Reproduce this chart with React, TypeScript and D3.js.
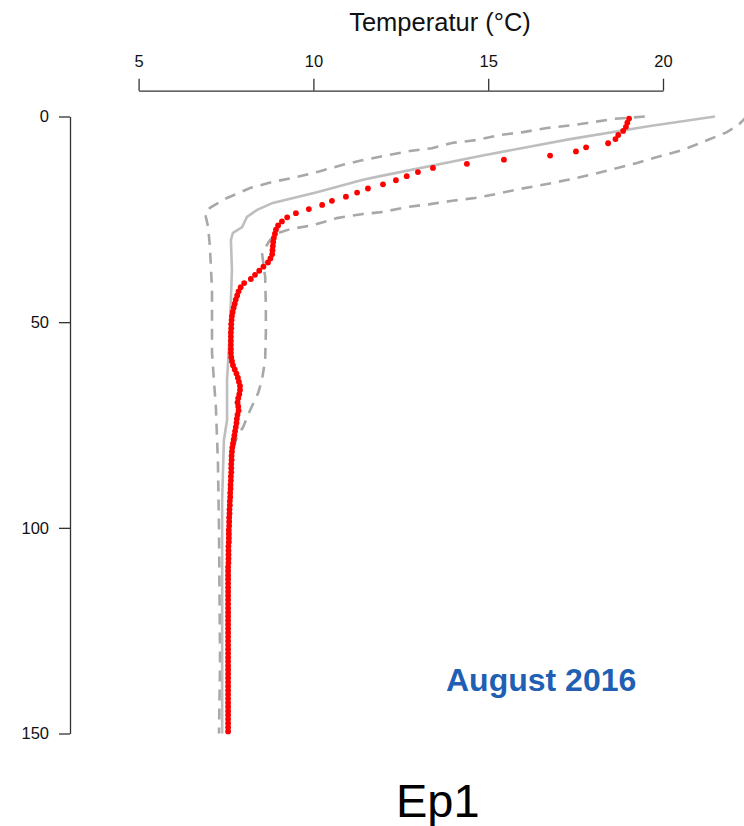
import React, { useEffect, useRef } from 'react';
import * as d3 from 'd3';

// Red dots: measured profile, one value per 1 m bin (depth = index + 0.5)
const observedTemp = [
  19.03, 18.98, 18.94, 18.86, 18.72, 18.64, 18.43, 17.8, 17.51, 16.77,
  15.45, 14.39, 13.42, 12.99, 12.67, 12.36, 11.99, 11.56, 11.25, 10.93,
  10.53, 10.25, 9.87, 9.5, 9.25, 9.1, 8.99, 8.93, 8.9, 8.87,
  8.85, 8.84, 8.83, 8.82, 8.77, 8.7, 8.57, 8.45, 8.33, 8.21,
  8.02, 7.92, 7.86, 7.82, 7.78, 7.75, 7.72, 7.69, 7.67, 7.66,
  7.65, 7.65, 7.64, 7.64, 7.64, 7.64, 7.64, 7.64, 7.65, 7.67,
  7.7, 7.75, 7.8, 7.84, 7.87, 7.9, 7.9, 7.88, 7.85, 7.83,
  7.85, 7.86, 7.83, 7.81, 7.8, 7.78, 7.76, 7.74, 7.72, 7.7,
  7.68, 7.67, 7.66, 7.66, 7.65, 7.65, 7.65, 7.64, 7.64, 7.63,
  7.63, 7.62, 7.62, 7.61, 7.61, 7.6, 7.6, 7.59, 7.59, 7.59,
  7.58, 7.58, 7.58, 7.58, 7.57, 7.57, 7.57, 7.57, 7.57, 7.56,
  7.56, 7.56, 7.56, 7.56, 7.56, 7.56, 7.56, 7.56, 7.56, 7.56,
  7.56, 7.56, 7.56, 7.56, 7.56, 7.56, 7.56, 7.56, 7.56, 7.56,
  7.56, 7.56, 7.56, 7.56, 7.56, 7.56, 7.56, 7.56, 7.56, 7.56,
  7.56, 7.56, 7.56, 7.56, 7.56, 7.56, 7.56, 7.56, 7.56, 7.56,
];

// Gray solid: mean profile
const meanDepth = [0, 2.3, 5.5, 9.6, 14.5, 15.4, 18.4, 21, 22.7, 24.4, 26.9, 28.3, 30, 37.3, 44.6, 51.9, 64, 73.8, 78.7, 93.3, 117.6, 150];
const meanTemp = [21.49, 19.63, 17.34, 14.77, 11.91, 11.42, 10.1, 8.84, 8.39, 8.1, 7.96, 7.7, 7.64, 7.67, 7.64, 7.61, 7.53, 7.53, 7.44, 7.39, 7.39, 7.39];

// Gray dashed: maximum profile
const maxDepth = [0, 2.1, 3.8, 6.2, 8.1, 9.8, 11.3, 12.8, 14.2, 15.4, 16.6, 17.6, 18.8, 19.8, 20.5, 21.3, 22, 23.2, 23.7, 24.7, 26.4, 27.4, 28.3, 30, 33.2, 39, 46.3, 52.6, 59.2, 64, 67.2, 71.4, 75.5, 77.9, 81.1, 84.2, 92.5, 117.6, 150];
const maxTemp = [22.4, 22.15, 21.83, 21.14, 20.57, 19.86, 19.26, 18.57, 17.91, 17.28, 16.57, 15.91, 15.25, 14.62, 13.97, 13.34, 12.68, 11.99, 11.42, 10.67, 9.99, 9.33, 8.99, 8.76, 8.53, 8.62, 8.64, 8.64, 8.62, 8.53, 8.42, 8.19, 7.99, 7.81, 7.7, 7.67, 7.64, 7.59, 7.59];

// Gray dashed: minimum profile
const minDepth = [0, 0.6, 1.6, 2.1, 2.8, 3.8, 4.5, 5.7, 6.4, 7.7, 8.4, 9.4, 10.6, 11.8, 13.3, 14.7, 15.9, 17.4, 19.8, 22.2, 23.5, 26.9, 31.7, 42.2, 57.5, 64.8, 70.6, 77.4, 84.2, 100.5, 132.9, 150];
const minTemp = [19.48, 18.57, 17.83, 17.43, 16.68, 16.0, 15.34, 14.68, 13.99, 13.39, 12.76, 12.13, 11.42, 10.82, 10.19, 9.53, 8.84, 8.19, 7.53, 7.04, 6.9, 6.99, 7.04, 7.1, 7.1, 7.16, 7.21, 7.24, 7.27, 7.3, 7.33, 7.3];

const tempTicks = [5, 10, 15, 20];
const depthTicks = [0, 50, 100, 150];

const W = 744;
const H = 826;
const font = '"Liberation Sans", Arial, sans-serif';

export default function App() {
  const ref = useRef<SVGSVGElement>(null);

  useEffect(() => {
    const svg = d3.select(ref.current);
    svg.selectAll('*').remove();

    const x = d3.scaleLinear().domain([5, 20]).range([138.6, 663]);
    const y = d3.scaleLinear().domain([0, 150]).range([116.5, 733.5]);

    // top axis
    svg.append('g')
      .attr('transform', 'translate(0,90.7)')
      .call(d3.axisTop(x).tickValues(tempTicks).tickSize(12).tickSizeOuter(0).tickPadding(12))
      .call(g => {
        g.select('.domain').attr('stroke', '#333').attr('stroke-width', 1.3);
        g.selectAll('line').attr('stroke', '#333').attr('stroke-width', 1.3);
        g.selectAll('text').attr('fill', '#111').style('font-size', '16.5px').style('font-family', font);
      });

    // left axis
    svg.append('g')
      .attr('transform', 'translate(70,0)')
      .call(d3.axisLeft(y).tickValues(depthTicks).tickSize(11).tickSizeOuter(0).tickPadding(10))
      .call(g => {
        g.select('.domain').attr('stroke', '#333').attr('stroke-width', 1.3);
        g.selectAll('line').attr('stroke', '#333').attr('stroke-width', 1.3);
        g.selectAll('text').attr('fill', '#111').style('font-size', '16.5px').style('font-family', font);
      });

    svg.append('text')
      .attr('x', 440).attr('y', 31)
      .attr('text-anchor', 'middle')
      .style('font-family', font).style('font-size', '25.5px')
      .attr('fill', '#111')
      .text('Temperatur (°C)');

    const line = d3.line<[number, number]>()
      .x(d => x(d[1]))
      .y(d => y(d[0]));

    const plot = svg.append('g');

    const profiles = [
      { depth: minDepth, temp: minTemp, dash: '11,8', color: '#a8a8a8' },
      { depth: maxDepth, temp: maxTemp, dash: '11,8', color: '#a8a8a8' },
      { depth: meanDepth, temp: meanTemp, dash: null, color: '#bebebe' },
    ];

    profiles.forEach(p => {
      plot.append('path')
        .attr('d', line(p.depth.map((d, i) => [d, p.temp[i]] as [number, number])))
        .attr('fill', 'none')
        .attr('stroke', p.color)
        .attr('stroke-width', 2.6)
        .attr('stroke-dasharray', p.dash);
    });

    plot.selectAll('circle')
      .data(observedTemp)
      .enter()
      .append('circle')
      .attr('cx', d => x(d))
      .attr('cy', (d, i) => y(i + 0.5))
      .attr('r', 2.9)
      .attr('fill', '#ff0000');

    svg.append('text')
      .attr('x', 446).attr('y', 691)
      .style('font-family', font).style('font-size', '32px').style('font-weight', 'bold')
      .attr('fill', '#1f5fb4')
      .text('August 2016');

    svg.append('text')
      .attr('x', 396).attr('y', 817)
      .style('font-family', font).style('font-size', '47px')
      .attr('fill', '#000')
      .text('Ep1');
  }, []);

  return (
    <svg ref={ref} width={W} height={H} style={{ position: 'absolute', left: 0, top: 0, background: '#fff' }} />
  );
}
